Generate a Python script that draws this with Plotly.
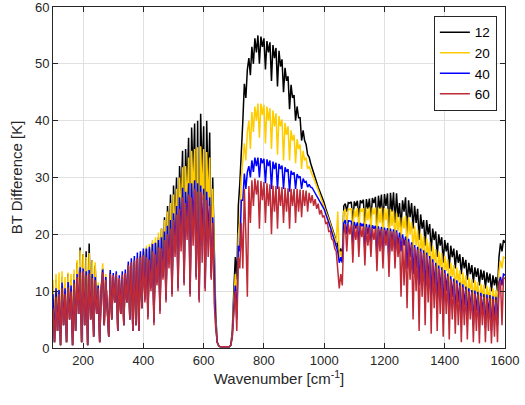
import plotly.graph_objects as go

# Spectral grid [cm^-1]
wavenumber = list(range(100, 1601, 5))

# Brightness-temperature difference spectra [K]
bt_12 = [
    11, 1, 12, 3, 11.5, 0.5, 12.5, 4, 11, 1, 13, 5, 12, 0.5, 13, 3, 15, 6, 17.7, 1,
    16.5, 4, 17, 0.5, 18.4, 5, 15.5, 2, 14.5, 6, 11, 1, 10.5, 14, 4, 12.5, 7, 2, 13.2, 5,
    12.5, 8, 12.8, 3, 12, 6, 12.5, 4, 13, 8, 14.5, 5, 15, 3, 15.3, 4, 15.8, 3, 16.2, 7,
    17,
    9.5, 17.5, 6.5, 17.5, 11.5, 18.5, 5.5, 18.5, 12.5, 19.5, 7.5, 21, 13.5, 23, 9.5, 25, 18, 27, 10.5, 28.6,
    22, 30, 11.5, 32, 26, 34.7, 12.5, 35, 28, 37, 10.5, 38.8, 30, 39.5, 13.5, 40, 9.5, 41.2, 30, 39,
    11.5, 40, 28, 37.9, 13.5, 30, 15, 6, 1, 0.4, 0.2, 0.2, 0.2, 0.2, 0.2, 0.2, 0.2, 0.5, 3, 10,
    16, 12, 25, 29, 36, 40, 46.5, 44, 49, 51, 48, 53, 50, 54.5, 52, 55, 50, 54.8, 53, 54.5,
    49, 54, 52, 53.8, 47, 53.3, 51, 52.8, 46, 52.3, 49.5, 50.8, 45, 49.3, 47, 47.8, 42, 46.3, 44, 44.5,
    40, 42.5, 40.5, 40.5, 36.5, 38.3, 36.5, 35.8, 34, 33.6, 32.5, 31.6, 30.6, 29.8, 29, 28.3, 27.6, 27, 26.2, 25.5,
    24.6, 23.8, 22.9, 22, 21.1, 20.2, 19.5, 18.8, 18, 16.5, 17.5, 15.5, 25, 25.4,
    24, 25.6, 25.5, 25.7, 22, 25.8, 25, 25.9, 23, 26, 25.5, 26.1, 21, 26.2, 24.5, 26.3, 22.5, 26.4, 25.5, 26.6,
    21, 26.8, 24.5, 27, 21.5, 27.1, 25, 27.2, 20, 27.3, 24, 27.4, 22, 27.2, 23, 25.5,
    21, 26, 24, 26.5, 20, 26, 23, 25.5, 21, 25, 22, 24.5, 19, 23.5, 21, 22.5, 18, 22.5, 20, 21.8,
    17, 21, 19, 20.5, 16, 20, 18, 19.5, 15, 19, 17, 18.5, 14, 18, 16, 17.5, 14, 17.2, 15, 16.5,
    13, 16, 14, 15.5, 12, 15, 13, 14.6, 11.5, 14.2, 12.5, 14, 11, 13.8, 12, 13.6, 10.5, 13.3, 11.5, 13.1,
    10, 12.8, 11, 12.5, 10, 16, 18.4, 17, 19, 18.5,
]

bt_20 = [
    12, 1, 13, 3, 13.3, 0.5, 13.5, 4, 12.5, 1, 13.3, 5, 13, 0.5, 13.8, 3, 15.5, 6, 17.2, 1,
    16.5, 4, 16, 0.5, 16.7, 5, 15.5, 2, 15.1, 6, 11.5, 1, 10.5, 14.9, 4, 13, 7, 2, 13.5, 5,
    12.8, 8, 13, 3, 12.2, 6, 12.7, 4, 13.2, 8, 14.7, 5, 15.2, 3, 15.5, 4, 16, 3, 16.5, 7,
    17.3,
    9, 18, 6, 18.3, 11, 19, 5, 19.5, 12, 20.3, 7, 21, 13, 22.5, 9, 24, 16, 25.5, 10, 27,
    20, 28, 11, 30, 23, 31.8, 12, 32, 25, 33.5, 10, 34.7, 27, 35, 13, 35.3, 9, 35.5, 26, 35,
    11, 34.5, 25, 33.5, 13, 28, 14, 5, 1, 0.4, 0.2, 0.2, 0.2, 0.2, 0.2, 0.2, 0.2, 0.5, 2.5, 8,
    13, 8, 20, 22, 30, 33, 36, 33, 38, 40, 35, 41.5, 38, 42.5, 40, 43, 37, 43, 41, 42.8,
    36, 42.5, 40, 42.2, 35, 41.8, 39, 41.3, 34, 40.8, 39, 40.2, 33, 39.6, 37.5, 39, 33, 38.3, 36.5, 37.5,
    32.5, 36.7, 35, 35.8, 31.5, 34.7, 33, 33.5, 31.5, 32, 31, 30.5, 29.9, 29.3, 28.5, 27.8, 27, 26.3, 25.6, 25,
    24.2, 23.5, 22.6, 21.8, 20.9, 20, 19.2, 18.5, 24, 16, 17, 15.5, 24, 24.4,
    22, 24.5, 24.4, 24.5, 20, 24.5, 23, 24.6, 21, 24.6, 24, 24.6, 19, 24.7, 22.5, 24.7, 20.5, 24.7, 23.5, 24.7,
    18.5, 24.7, 22, 24.7, 19, 24.6, 22.5, 24.5, 17.5, 24.4, 21.5, 24.2, 18.5, 23.8, 20.5, 23,
    19, 23, 21, 23.3, 17, 23, 20, 22.2, 17, 21.5, 18, 20.8, 15, 20.2, 17, 19.7, 14, 19.3, 16, 18.7,
    13, 18, 15, 17.4, 12, 17, 14, 16.7, 11, 16.2, 13.5, 15.6, 10, 15, 12.5, 14.6, 10, 14.2, 11.5, 13.7,
    9, 13.3, 10.5, 12.8, 8, 12.4, 10, 12.1, 8, 11.9, 9.5, 11.6, 7, 11.3, 9, 11.1, 7, 10.9, 8.5, 10.7,
    6.5, 10.5, 8, 10.2, 7, 13.5, 15.4, 14, 16, 15.8,
]

bt_40 = [
    9.5, 1, 10.5, 3, 10.2, 0.5, 11.5, 4, 10.5, 1, 11.6, 5, 11, 0.5, 12, 3, 13, 6, 14.2, 1,
    14, 4, 13.5, 0.5, 13.7, 5, 13, 2, 12.5, 6, 11, 1, 10.3, 13.8, 4, 12.5, 7, 2, 13.7, 5,
    13.2, 8, 13.5, 3, 12.8, 6, 13.5, 4, 13.8, 8, 15.2, 5, 15.8, 3, 16.2, 4, 16.8, 3, 17, 7,
    17.5,
    8.5, 17.5, 5.5, 17.8, 10.5, 18.3, 4.5, 18.5, 11.5, 19, 6.5, 19.5, 12.5, 20.5, 8.5, 21.5, 15, 22.5, 9.5, 23.7,
    18, 25, 10.5, 26.5, 20, 28.2, 11.5, 27.5, 22, 29, 9.5, 29, 22, 29.5, 12.5, 29, 8.5, 28.6, 20, 28,
    10.5, 27.5, 20, 26.5, 12.5, 23, 11, 4, 1, 0.4, 0.2, 0.2, 0.2, 0.2, 0.2, 0.2, 0.2, 0.5, 2, 7,
    11, 5, 18, 17, 26, 26, 30.7, 28, 31, 32, 30, 33, 31, 33.5, 32, 33.5, 30, 33.4, 32.5, 33.3,
    29, 33.2, 32, 33, 28, 32.8, 31.5, 32.6, 28, 32.4, 31.5, 32.1, 28, 31.8, 31, 31.5, 27.5, 31.2, 30.5, 30.9,
    28, 30.6, 30, 30.2, 28, 29.8, 29.2, 29.3, 28.3, 28.8, 28.3, 28.2, 27.7, 27.3, 26.8, 26.3, 25.8, 25.3, 24.8, 24.4,
    23.6, 23, 22.1, 21.3, 20.4, 19.6, 18.8, 18, 17, 15, 16, 15, 22, 22.5,
    20, 22.4, 22.3, 22.3, 18, 22.2, 21, 22.1, 18.5, 22, 21.5, 21.9, 17, 21.8, 20, 21.7, 18, 21.6, 21, 21.5,
    16, 21.4, 19, 21.3, 16, 21.2, 19.5, 21.1, 15, 21, 18.5, 20.9, 16, 20.7, 18, 20.3,
    17, 20, 18, 19.6, 14, 19.2, 16, 18.6, 13, 18.1, 14, 17.8, 11, 17.5, 13, 17.2, 10, 16.8, 12, 16.2,
    9, 15.6, 11, 15, 8, 14.5, 10, 14.2, 7, 13.7, 10, 13.1, 6, 12.6, 9, 12.2, 6, 11.9, 8, 11.5,
    5, 11.2, 7.5, 10.8, 5, 10.5, 7, 10.2, 4, 10.1, 6.5, 9.9, 4, 9.7, 6, 9.5, 3.5, 9.4, 6, 9.3,
    3, 9.1, 5, 9, 4, 11.5, 12.5, 11, 13, 12.8,
]

bt_60 = [
    7, 1, 9, 3, 9.5, 0.5, 10.5, 4, 9.5, 1, 10.7, 5, 10, 0.5, 11.4, 3, 12.5, 6, 13.3, 1,
    13.5, 4, 12.8, 0.5, 13.1, 5, 12.3, 2, 11.9, 6, 10.5, 1, 10.2, 13.3, 4, 12, 7, 2, 13, 5,
    12.8, 8, 13, 3, 12.3, 6, 12.9, 4, 13.2, 8, 14.6, 5, 15.1, 3, 15.4, 4, 15.8, 3, 16, 7,
    16.3,
    8, 16, 5, 15.5, 10, 17, 4, 16.5, 11, 17.7, 6, 17.5, 12, 19, 8, 20, 14, 21, 9, 22.5,
    16, 23.5, 10, 24.5, 17, 26.5, 11, 25.5, 19, 27, 9, 26.5, 18, 28, 12, 27.5, 8, 27.5, 15, 27,
    10, 26, 16, 25, 12, 22, 8, 3.5, 1, 0.4, 0.2, 0.2, 0.2, 0.2, 0.2, 0.2, 0.2, 0.5, 2, 6,
    10, 3, 16, 14, 22, 14, 28, 20, 9, 28.5, 22, 29.5, 25, 29.8, 27, 29.5, 21, 29.4, 26, 29.2,
    22, 29, 25, 28.8, 20, 28.6, 24, 28.5, 21, 28.4, 25, 28.3, 22, 28.2, 24, 28.1, 21, 28, 25, 28,
    22, 28, 24, 27.9, 23, 27.8, 25, 27.7, 24, 27.3, 25.5, 26.9, 25, 26.2, 24.5, 25.4, 23.5, 24.3, 23, 23.3,
    21.8, 22.2, 20.5, 20.6, 19.2, 18.9, 17.5, 17, 14, 10.5, 13, 11, 20, 21.8,
    17, 21.8, 20, 21.7, 15, 21.6, 19, 21.5, 16, 21.5, 19.5, 21.4, 14.5, 21.3, 18, 21.2, 16, 21.1, 19, 21,
    13.5, 21, 17, 20.9, 14, 20.8, 18, 20.7, 12.5, 20.6, 17, 20.5, 14, 20.3, 16, 19.5,
    9, 19.3, 11, 19, 7, 18.7, 12, 18.2, 5, 17.7, 10, 17.3, 3, 17, 9, 16.7, 4, 16.3, 8, 15.7,
    2.5, 15.1, 7, 14.5, 3, 14, 6, 13.7, 2, 13.2, 6, 12.6, 1.5, 12.1, 5, 11.7, 2.5, 11.4, 4, 11,
    1, 10.7, 4, 10.3, 1.5, 10, 5, 9.8, 1, 9.6, 3, 9.4, 0.8, 9.2, 4, 9, 1, 8.9, 3, 8.8,
    0.8, 8.6, 2, 8.5, 1, 11, 11.9, 4, 12.4, 12.2,
]

series_names = ["12", "20", "40", "60"]
series_values = [bt_12, bt_20, bt_40, bt_60]
series_colors = ["#000000", "#FFCC00", "#0000FF", "#BE2B37"]

x_ticks = [200, 400, 600, 800, 1000, 1200, 1400, 1600]
y_ticks = [0, 10, 20, 30, 40, 50, 60]

axis_color = "#262626"
grid_color = "#E0E0E0"

fig = go.Figure()
for name, vals, col in zip(series_names, series_values, series_colors):
    fig.add_trace(go.Scatter(
        x=wavenumber, y=vals, mode="lines", name=name,
        line=dict(color=col, width=1.5),
    ))

axis_common = dict(
    showgrid=True, gridcolor=grid_color, gridwidth=1,
    showline=True, linecolor=axis_color, linewidth=1, mirror="ticks",
    ticks="inside", ticklen=5, tickcolor=axis_color,
    tickfont=dict(size=13, color=axis_color),
    ticklabeloverflow="allow",
    zeroline=False,
)

fig.update_layout(
    width=525, height=405,
    margin=dict(l=53, r=18, t=6, b=57),
    paper_bgcolor="white", plot_bgcolor="white",
    font=dict(family="Liberation Sans, Arial, Helvetica, sans-serif", color=axis_color),
    xaxis=dict(
        range=[100, 1600], tickvals=x_ticks,
        title=dict(text="Wavenumber [cm<sup>-1</sup>]", font=dict(size=15), standoff=6),
        **axis_common,
    ),
    yaxis=dict(
        range=[0, 60], tickvals=y_ticks, automargin=False,
        title=dict(text="BT Difference [K]", font=dict(size=15), standoff=8),
        **axis_common,
    ),
    legend=dict(
        x=0.982, y=0.974, xanchor="right", yanchor="top",
        bgcolor="white", bordercolor=axis_color, borderwidth=1,
        font=dict(size=13.5, color="#000000"),
        itemwidth=30, tracegroupgap=0,
    ),
)

fig.write_html("out.html")
